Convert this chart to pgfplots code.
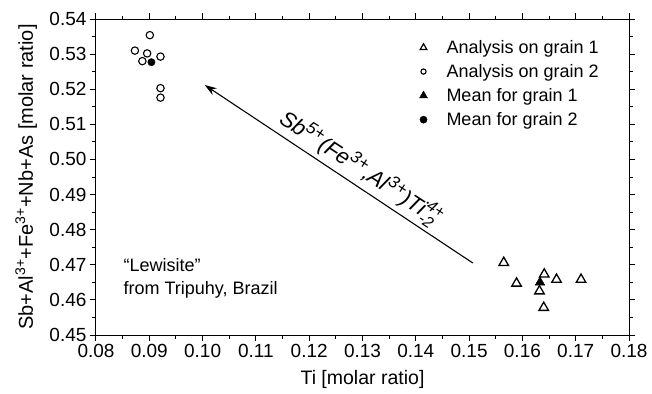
\documentclass[border=0pt]{standalone}
\usepackage{fontspec}
\setmainfont{Liberation Sans}
\usepackage{pgfplots}
\pgfplotsset{compat=1.18}
\usetikzlibrary{arrows.meta}
\begin{document}
\begin{tikzpicture}
\begin{axis}[
  width=533pt, height=316pt, scale only axis,
  xmin=0.08, xmax=0.18, ymin=0.45, ymax=0.54,
  xtick={0.08,0.09,0.10,0.11,0.12,0.13,0.14,0.15,0.16,0.17,0.18},
  ytick={0.45,0.46,0.47,0.48,0.49,0.50,0.51,0.52,0.53,0.54},
  minor x tick num=1, minor y tick num=1,
  tick align=outside, major tick length=6pt, minor tick length=3.5pt,
  axis line style={line width=1pt},
  every tick/.style={line width=1pt, black},
  ticklabel style={font=\fontsize{19}{21}\selectfont},
  /pgf/number format/fixed, /pgf/number format/fixed zerofill,
  /pgf/number format/precision=2, /pgf/number format/assume math mode=true,
  scaled ticks=false,
  xlabel={Ti [molar ratio]},
  ylabel={Sb+Al\textsuperscript{3+}+Fe\textsuperscript{3+}+Nb+As [molar ratio]},
  xlabel style={font=\fontsize{19.5}{21}\selectfont, at={(axis description cs:0.5,-0.142)}, anchor=center},
  ylabel style={font=\fontsize{20}{22}\selectfont, at={(axis description cs:-0.131,0.5)}, anchor=center},
  legend style={at={(axis description cs:0.601,0.946)}, anchor=north west,
    draw=none, fill=none, font=\fontsize{18}{20}\selectfont, row sep=5.5pt,
    /tikz/every odd column/.append style={column sep=17pt}},
  legend cell align=left,
]
\addlegendimage{only marks, mark=triangle, mark size=3.8pt, line width=1.2pt, black}
\addlegendentry{Analysis on grain 1}
\addlegendimage{only marks, mark=o, mark size=2.6pt, line width=1.1pt, black}
\addlegendentry{Analysis on grain 2}
\addlegendimage{only marks, mark=triangle*, mark size=4.6pt, black}
\addlegendentry{Mean for grain 1}
\addlegendimage{only marks, mark=*, mark size=3.6pt, black}
\addlegendentry{Mean for grain 2}

\addplot[only marks, mark=triangle, mark size=5.5pt, line width=1.3pt, black, forget plot] coordinates {
(0.1565,0.4706) (0.1589,0.4647) (0.1641,0.4673) (0.1664,0.4658)
(0.1710,0.4658) (0.1632,0.4625) (0.1640,0.4578)
};
\addplot[only marks, mark=triangle*, mark size=5.5pt, black, forget plot] coordinates {(0.1633,0.4650)};
\addplot[only marks, mark=o, mark size=3.7pt, line width=1.1pt, black, forget plot] coordinates {
(0.0901,0.5354) (0.0873,0.5310) (0.0896,0.5302) (0.0921,0.5293)
(0.0887,0.5280) (0.0921,0.5203) (0.0921,0.5176)
};
\addplot[only marks, mark=*, mark size=3.7pt, black, forget plot] coordinates {(0.0904,0.5277)};

\draw[line width=1.1pt, -{Stealth[length=12pt,width=8pt]}] (axis cs:0.1507,0.4705) -- (axis cs:0.1004,0.5212);
\node[rotate=-33.4, anchor=south, inner sep=3pt, font=\fontsize{22}{24}\selectfont\itshape]
  at (axis cs:0.1280,0.4935) {Sb\textsuperscript{\fontsize{17}{17}\selectfont 5+}(Fe\textsuperscript{\fontsize{17}{17}\selectfont 3+},Al\textsuperscript{\fontsize{17}{17}\selectfont 3+})Ti\rlap{\raisebox{-0.55ex}{\fontsize{16}{16}\selectfont -2}}\raisebox{0.75ex}{\fontsize{16}{16}\selectfont 4+}};
\node[anchor=north west, align=left, font=\fontsize{18}{23}\selectfont]
  at (axis cs:0.0845,0.4728) {“Lewisite”\\from Tripuhy, Brazil};
\end{axis}
\pgfresetboundingbox
\path ([xshift=-96pt,yshift=-58pt]current axis.south west) rectangle ([xshift=23pt,yshift=19pt]current axis.north east);
\end{tikzpicture}
\end{document}
